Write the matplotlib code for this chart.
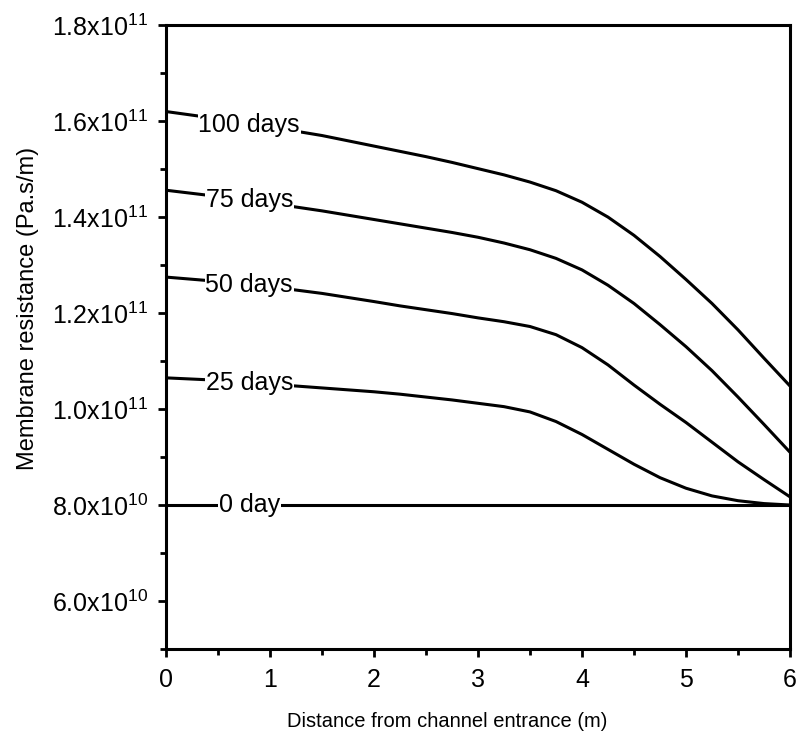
import matplotlib
matplotlib.use("Agg")
import matplotlib.pyplot as plt
from matplotlib.ticker import MultipleLocator, FuncFormatter

plt.rcParams['font.family'] = ['Liberation Sans', 'DejaVu Sans']
plt.rcParams['mathtext.fontset'] = 'custom'
plt.rcParams['mathtext.rm'] = 'Liberation Sans'
plt.rcParams['mathtext.it'] = 'Liberation Sans'

# distance from channel entrance (m)
x = [0, 0.5, 1, 1.5, 2, 2.25, 2.5, 2.75, 3, 3.25, 3.5, 3.75, 4, 4.25, 4.5, 4.75,
     5, 5.25, 5.5, 5.75, 6]

# membrane resistance in units of 1e10 Pa.s/m
r_0 = [8.0] * len(x)
r_25 = [10.65, 10.6, 10.52, 10.44, 10.36, 10.31, 10.25, 10.19, 10.12, 10.05, 9.94,
        9.74, 9.47, 9.16, 8.85, 8.57, 8.35, 8.19, 8.09, 8.03, 8.0]
r_50 = [12.75, 12.66, 12.55, 12.41, 12.24, 12.15, 12.07, 11.99, 11.9, 11.82, 11.72,
        11.55, 11.28, 10.92, 10.5, 10.1, 9.72, 9.31, 8.9, 8.53, 8.17]
r_75 = [14.56, 14.43, 14.29, 14.13, 13.95, 13.86, 13.77, 13.68, 13.58, 13.46, 13.32,
        13.14, 12.9, 12.58, 12.2, 11.76, 11.3, 10.8, 10.25, 9.68, 9.1]
r_100 = [16.2, 16.05, 15.88, 15.7, 15.48, 15.37, 15.26, 15.14, 15.01, 14.88, 14.73,
         14.55, 14.31, 14.0, 13.62, 13.18, 12.7, 12.2, 11.65, 11.06, 10.48]

series = [r_0, r_25, r_50, r_75, r_100]
labels = ['0 day', '25 days', '50 days', '75 days', '100 days']
label_x = [0.8, 0.8, 0.8, 0.8, 0.8]
label_y = [8.0, 10.54, 12.58, 14.35, 15.92]

fig = plt.figure(figsize=(8, 7.4), dpi=100)
ax = fig.add_axes([0.2075, 0.123, 0.78, 0.843])

for s in series:
    ax.plot(x, [v * 1e10 for v in s], color='black', lw=2.2, solid_capstyle='butt')

for lab, lx, ly in zip(labels, label_x, label_y):
    ax.text(lx, ly * 1e10, lab, fontsize=18, ha='center', va='center', zorder=5,
            bbox=dict(facecolor='white', edgecolor='none', pad=0.5))

ax.set_xlim(0, 6)
ax.set_ylim(5e10, 1.8e11)
ax.xaxis.set_major_locator(MultipleLocator(1))
ax.xaxis.set_minor_locator(MultipleLocator(0.5))
ax.yaxis.set_major_locator(MultipleLocator(2e10))
ax.yaxis.set_minor_locator(MultipleLocator(1e10))


def yfmt(v, pos):
    if v >= 1e11:
        return r"%.1fx10$^{11}$" % (v / 1e11)
    return r"%.1fx10$^{10}$" % (v / 1e10)


ax.yaxis.set_major_formatter(FuncFormatter(yfmt))

for sp in ax.spines.values():
    sp.set_linewidth(2.2)
ax.tick_params(which='major', direction='out', length=6, width=2, labelsize=18)
ax.tick_params(which='minor', direction='out', length=4, width=2)
ax.tick_params(axis='x', which='major', pad=8)
ax.tick_params(axis='y', which='major', pad=7)

ax.set_xlabel('Distance from channel entrance (m)', fontsize=14.5, va='center')
ax.set_ylabel('Membrane resistance (Pa.s/m)', fontsize=17, va='center')
ax.xaxis.set_label_coords(0.45, -0.117)
ax.yaxis.set_label_coords(-0.221, 0.546)

fig.savefig('out.png', dpi=100)
